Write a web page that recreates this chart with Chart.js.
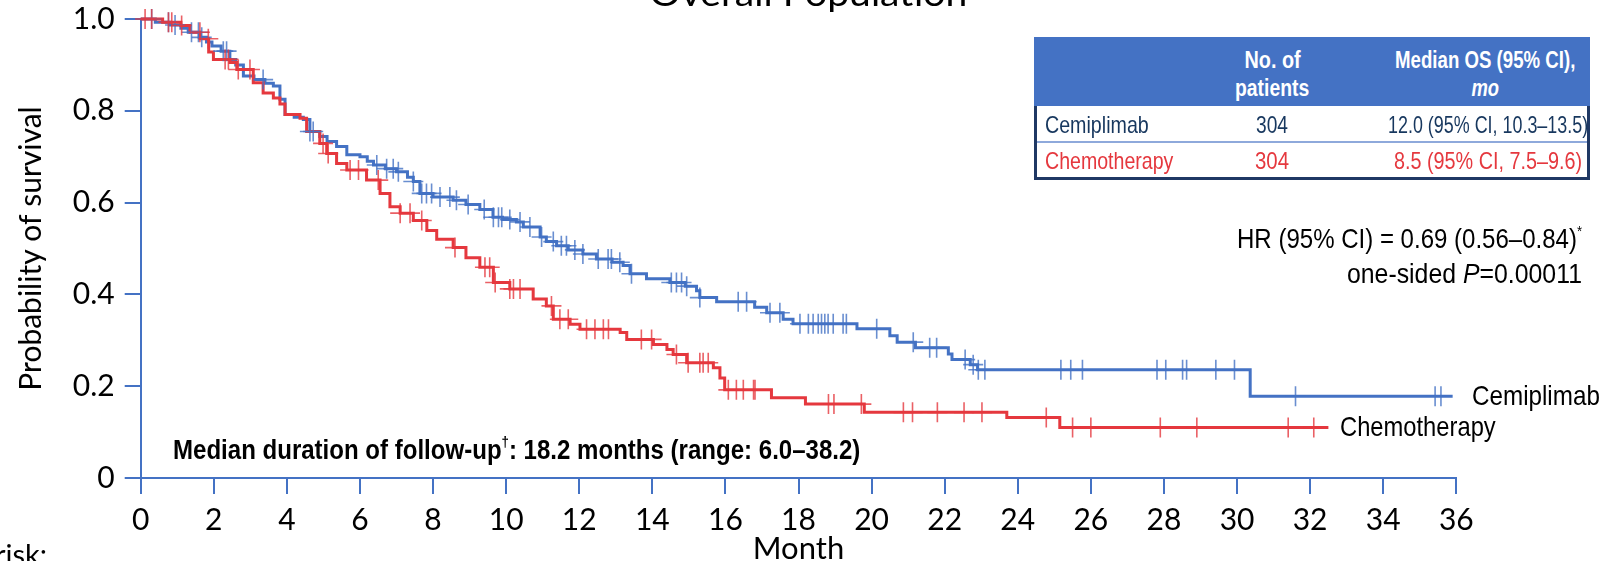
<!DOCTYPE html>
<html lang="en">
<head>
<meta charset="UTF-8">
<title>Overall Population</title>
<style>
  html, body { margin: 0; padding: 0; background: #fff; }
  #stage { position: relative; width: 1616px; height: 561px; overflow: hidden; }
  #stage canvas { position: absolute; left: 0; top: 0; }
  .t { position: absolute; white-space: nowrap; line-height: 1; font-family: 'Liberation Sans', Arial, sans-serif; color: #000; }
  .t sup { font-size: 0.55em; line-height: 0; vertical-align: 0.75em; }
  .lato { font-family: Lato, 'Open Sans', sans-serif; }
  .hd { color: #fff; font-weight: bold; font-size: 23px; }
  .cell { font-size: 24px; }
  #head { position: absolute; left: 1034px; top: 37px; width: 556px; height: 69px; background: #4472C4; }
  #body { position: absolute; left: 1034px; top: 106px; width: 556px; height: 74px; box-sizing: border-box; border: 3px solid #1F3864; border-top: none; }
  #sep { position: absolute; left: 0; right: 0; top: 35px; height: 2px; background: #8EA9DB; }
</style>
</head>
<body>
<div id="stage">
  <canvas id="km" width="1616" height="561"></canvas>

  <div class="t lato" data-x="808" data-y="-8" data-w="318" data-a="center" style="font-size:35px">Overall Population</div>

  <div id="head"></div>
  <div id="body"><div id="sep"></div></div>
  <div class="t hd" data-x="1272" data-y="60" data-w="56" data-a="center">No. of</div>
  <div class="t hd" data-x="1272" data-y="88" data-w="74" data-a="center">patients</div>
  <div class="t hd" data-x="1485" data-y="60" data-w="180" data-a="center">Median OS (95% CI),</div>
  <div class="t hd" data-x="1485" data-y="88" data-w="28" data-a="center"><i>mo</i></div>

  <div class="t" data-x="1582" data-y="239" data-w="345" data-a="right" style="font-size:28px">HR (95% CI) = 0.69 (0.56–0.84)<sup>*</sup></div>
  <div class="t" data-x="1582" data-y="274" data-w="235" data-a="right" style="font-size:28px">one-sided <i>P</i>=0.00011</div>

  <div class="t" data-x="173" data-y="450" data-w="687" style="font-size:28px;font-weight:bold">Median duration of follow-up<sup>†</sup>: 18.2 months (range: 6.0–38.2)</div>

  <div class="t" id="lab0" data-x="1472" data-y="396" data-w="128" style="font-size:28px"></div>
  <div class="t" id="lab1" data-x="1340" data-y="427" data-w="156" style="font-size:28px"></div>

  <div class="t lato" data-x="47" data-y="553" data-a="right" style="font-size:29px">risk:</div>
</div>

<script src="https://cdn.jsdelivr.net/npm/chart.js"></script>
<script>
  // Kaplan-Meier steps (month, survival after the step)
  const arms = ['Cemiplimab', 'Chemotherapy'];
  const patients = [304, 304];
  const medianOS = ['12.0 (95% CI, 10.3–13.5)', '8.5 (95% CI, 7.5–9.6)'];

  const cemiTimes = [0, 0.4, 0.8, 1.1, 1.3, 1.6, 1.8, 1.95, 2.2, 2.44, 2.6, 2.81, 3.1, 3.4, 3.63, 3.81, 3.95, 4.2, 4.45, 4.63,
    4.9, 5.1, 5.36, 5.64, 6.0, 6.2, 6.37, 6.7, 7.0, 7.3, 7.46, 7.64, 8.0, 8.55, 8.9, 9.28, 9.64, 9.9, 10.28, 10.47,
    10.93, 11.1, 11.38, 11.7, 12.1, 12.47, 12.9, 13.2, 13.39, 13.84, 14.48, 14.9, 15.21, 15.3, 15.76, 16.8, 17.13, 17.58, 17.85, 19.6,
    20.5, 20.7, 21.2, 22.1, 22.2, 22.7, 22.9, 30.36, 35.9];
  const cemiSurv = [1.0, 0.993, 0.987, 0.98, 0.971, 0.96, 0.95, 0.941, 0.93, 0.912, 0.9, 0.876, 0.868, 0.86, 0.854, 0.825, 0.792, 0.786, 0.781, 0.755,
    0.744, 0.733, 0.722, 0.704, 0.7, 0.69, 0.682, 0.674, 0.667, 0.655, 0.646, 0.62, 0.612, 0.605, 0.596, 0.585, 0.568, 0.563, 0.558, 0.547,
    0.525, 0.515, 0.506, 0.497, 0.488, 0.477, 0.47, 0.463, 0.445, 0.434, 0.426, 0.418, 0.408, 0.393, 0.384, 0.372, 0.36, 0.346, 0.336, 0.325,
    0.31, 0.296, 0.284, 0.27, 0.258, 0.247, 0.236, 0.178, 0.178];

  const chemoTimes = [0, 0.6, 1.1, 1.35, 1.63, 1.86, 1.99, 2.44, 2.63, 3.08, 3.35, 3.63, 3.81, 3.95, 4.36, 4.54, 4.9, 5.09, 5.36, 5.64,
    6.18, 6.55, 6.82, 7.1, 7.46, 7.83, 8.1, 8.55, 8.9, 9.28, 9.65, 10.1, 10.74, 11.1, 11.29, 11.75, 12.02, 13.12, 13.3, 14.03,
    14.4, 14.57, 14.94, 15.67, 15.85, 15.98, 17.26, 18.19, 19.8, 23.7, 25.15, 32.5];
  const chemoSurv = [1.0, 0.993, 0.986, 0.971, 0.957, 0.928, 0.912, 0.905, 0.89, 0.861, 0.839, 0.828, 0.815, 0.792, 0.784, 0.755, 0.729, 0.707, 0.685, 0.671,
    0.649, 0.62, 0.591, 0.577, 0.561, 0.539, 0.52, 0.502, 0.48, 0.459, 0.426, 0.412, 0.39, 0.375, 0.346, 0.335, 0.324, 0.317, 0.302, 0.291,
    0.28, 0.269, 0.251, 0.24, 0.218, 0.192, 0.175, 0.161, 0.143, 0.132, 0.11, 0.11];

  // censoring times
  const cemiCensor = [0.3, 0.76, 0.94, 1.39, 1.58, 1.67, 2.26, 2.35, 3.35, 4.63, 4.72, 6.46, 6.73, 6.91, 7.05, 7.46, 7.69, 7.82, 7.96, 8.19,
    8.46, 8.64, 8.96, 9.4, 9.65, 9.79, 9.88, 10.1, 10.38, 10.65, 10.97, 11.29, 11.51, 11.65, 11.88, 12.1, 12.52, 12.79, 12.88, 13.11,
    13.43, 14.52, 14.66, 14.8, 14.94, 15.3, 16.35, 16.58, 17.22, 17.49, 18.04, 18.27, 18.4, 18.54, 18.63, 18.72, 18.81, 18.95, 19.22, 19.31,
    20.14, 21.14, 21.59, 21.78, 22.56, 22.78, 22.92, 23.1, 25.18, 25.45, 25.77, 27.81, 28.05, 28.51, 28.62, 29.42, 29.93, 31.6, 35.42, 35.58];
  const chemoCensor = [0.12, 0.3, 0.76, 0.85, 1.12, 1.62, 1.85, 2.31, 2.4, 2.67, 2.99, 4.99, 5.13, 5.73, 5.96, 6.5, 7.1, 7.37, 7.69, 8.6,
    9.42, 9.55, 9.7, 10.1, 10.2, 10.38, 11.24, 11.47, 11.7, 12.2, 12.43, 12.66, 12.8, 13.7, 13.98, 14.66, 14.98, 15.3, 15.39, 15.53,
    16.08, 16.3, 16.49, 16.77, 16.81, 18.82, 18.97, 19.72, 20.87, 21.12, 21.8, 22.53, 23.02, 24.78, 25.5, 26.0, 27.9, 28.9, 31.4, 32.1];

  const monthTicks = [0, 2, 4, 6, 8, 10, 12, 14, 16, 18, 20, 22, 24, 26, 28, 30, 32, 34, 36];
  const probTicks = [0, 0.2, 0.4, 0.6, 0.8, 1.0];

  const blue = '#4472C4';
  const red = '#E5383E';

  function survAt(times, surv, t) {
    let s = surv[0];
    for (let i = 0; i < times.length; i++) {
      if (times[i] <= t) s = surv[i]; else break;
    }
    return s;
  }
  const toPts = (ts, ss) => ts.map((t, i) => ({ x: t, y: ss[i] }));
  const censorPts = (cs, ts, ss) => cs.map(t => ({ x: t, y: survAt(ts, ss, t) }));

  const tickFont = { family: 'Lato', size: 30 };

  new Chart(document.getElementById('km'), {
    type: 'line',
    data: {
      datasets: [
        { label: 'Chemotherapy censored', data: censorPts(chemoCensor, chemoTimes, chemoSurv), showLine: false,
          pointStyle: 'cross', pointRadius: 10, pointBorderWidth: 1.6, pointBorderColor: 'rgba(229,56,62,0.8)', order: 0, clip: false },
        { label: 'Cemiplimab censored', data: censorPts(cemiCensor, cemiTimes, cemiSurv), showLine: false,
          pointStyle: 'cross', pointRadius: 10, pointBorderWidth: 1.6, pointBorderColor: 'rgba(68,114,196,0.8)', order: 1, clip: false },
        { label: arms[1], data: toPts(chemoTimes, chemoSurv), stepped: true, borderColor: red, borderWidth: 3,
          pointRadius: 0, order: 2, clip: false },
        { label: arms[0], data: toPts(cemiTimes, cemiSurv), stepped: true, borderColor: blue, borderWidth: 3,
          pointRadius: 0, order: 3, clip: false }
      ]
    },
    options: {
      responsive: false,
      animation: false,
      events: [],
      layout: { padding: { left: 0, top: 19, right: 159.7, bottom: 0 } },
      plugins: { legend: { display: false }, tooltip: { enabled: false } },
      scales: {
        x: {
          type: 'linear', min: 0, max: 36,
          afterBuildTicks: s => { s.ticks = monthTicks.map(v => ({ value: v })); },
          afterFit: s => { s.height = 83; s.paddingLeft = 0; s.paddingRight = 0; },
          border: { color: blue, width: 2 },
          grid: { drawOnChartArea: false, color: blue, lineWidth: 2, tickLength: 16 },
          ticks: { color: '#000', font: tickFont, padding: 8, maxRotation: 0, autoSkip: false },
          title: { display: true, text: 'Month', color: '#000', font: { family: 'Lato', size: 31, lineHeight: 1 }, padding: { top: 0, bottom: -3 } }
        },
        y: {
          min: 0, max: 1,
          afterBuildTicks: s => { s.ticks = probTicks.map(v => ({ value: v })); },
          afterFit: s => { s.width = 140.7; s.paddingTop = 0; s.paddingBottom = 0; },
          border: { color: blue, width: 2 },
          grid: { drawOnChartArea: false, color: blue, lineWidth: 2, tickLength: 16 },
          ticks: { color: '#000', font: tickFont, padding: 10, callback: v => v === 0 ? '0' : v.toFixed(1) },
          title: { display: true, text: 'Probability of survival', color: '#000', font: { family: 'Lato', size: 30, lineHeight: 1.2 }, padding: { top: 13, bottom: 0 } }
        }
      }
    }
  });

  // table rows and curve labels
  const rowColors = ['#17375E', red];
  const rowY = [125, 161];
  const nameW = [104, 128], numW = [32, 34], medW = [200, 188], medX = [1488, 1488];
  arms.forEach((a, i) => {
    const cells = [
      { txt: a, x: 1045, w: nameW[i], al: 'left' },
      { txt: String(patients[i]), x: 1272, w: numW[i], al: 'center' },
      { txt: medianOS[i], x: medX[i], w: medW[i], al: 'center' }
    ];
    cells.forEach(c => {
      const d = document.createElement('div');
      d.className = 't cell';
      d.textContent = c.txt;
      d.style.color = rowColors[i];
      d.dataset.x = c.x; d.dataset.y = rowY[i]; d.dataset.w = c.w; d.dataset.a = c.al;
      document.getElementById('stage').appendChild(d);
    });
  });
  document.getElementById('lab0').textContent = arms[0];
  document.getElementById('lab1').textContent = arms[1];

  function placeAll() {
    document.querySelectorAll('.t').forEach(el => {
      el.style.transform = 'none';
      const x = +el.dataset.x, y = +el.dataset.y, al = el.dataset.a || 'left';
      const nw = el.offsetWidth, nh = el.offsetHeight;
      const w = el.dataset.w ? +el.dataset.w : nw;
      let left = x, origin = 'left';
      if (al === 'right') { left = x - nw; origin = 'right'; }
      if (al === 'center') { left = x - nw / 2; origin = 'center'; }
      el.style.left = left + 'px';
      el.style.top = (y - nh / 2) + 'px';
      el.style.transformOrigin = origin + ' center';
      el.style.transform = 'scaleX(' + (w / nw) + ')';
    });
  }
  placeAll();
  if (document.fonts) document.fonts.ready.then(placeAll);
</script>
</body>
</html>
